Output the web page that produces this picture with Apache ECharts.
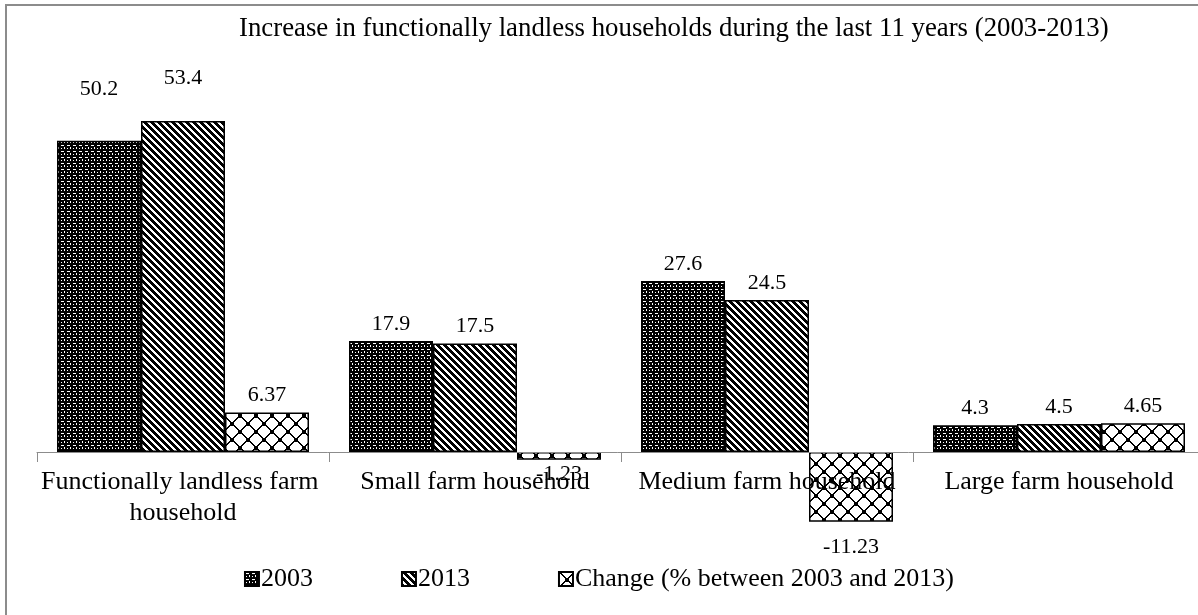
<!DOCTYPE html>
<html>
<head>
<meta charset="utf-8">
<script src="https://cdn.jsdelivr.net/npm/echarts@6/dist/echarts.min.js"></script>
<style>
  html, body { margin: 0; padding: 0; background: #fff; }
  #chart { width: 1198px; height: 615px; }
</style>
</head>
<body>
<div id="chart"></div>
<script>
// chart data
const categories = ['Functionally landless farm household', 'Small farm household', 'Medium farm household', 'Large farm household'];
const values2003 = [50.2, 17.9, 27.6, 4.3];
const values2013 = [53.4, 17.5, 24.5, 4.5];
const valuesChange = [6.37, -1.23, -11.23, 4.65];
const seriesNames = ['2003', '2013', 'Change (% between 2003 and 2013)'];

const FONT = '"Liberation Serif", "Times New Roman", serif';

// build pattern tiles (Excel-like hatch fills)
function makeTile(size, draw) {
    const c = document.createElement('canvas');
    c.width = size;
    c.height = size;
    const ctx = c.getContext('2d');
    ctx.fillStyle = '#fff';
    ctx.fillRect(0, 0, size, size);
    ctx.fillStyle = '#000';
    draw(ctx, size);
    return c;
}

// 2003: dark grid with small white dashes
const tileGrid = makeTile(6, (ctx) => {
    ctx.fillRect(0, 0, 6, 6);
    ctx.fillStyle = '#fff';
    ctx.fillRect(1, 1, 3, 1);
    ctx.fillRect(4, 3, 1, 2);
    ctx.fillRect(1, 4, 1, 1);
});

// 2013: diagonal stripes going down to the right
const tileDiag = makeTile(7, (ctx, s) => {
    for (let y = 0; y < s; y++) {
        for (let x = 0; x < s; x++) {
            if (((x - y) % s + s) % s < 4) ctx.fillRect(x, y, 1, 1);
        }
    }
});

// change: open diamond lattice with dots at the crossings
const tileLattice = makeTile(16, (ctx, s) => {
    for (let i = 0; i < s; i++) {
        ctx.fillRect(i, i, 2, 1);
        ctx.fillRect(s - 2 - i, i, 2, 1);
    }
    ctx.fillRect(6, 6, 4, 4);
    ctx.fillRect(0, 0, 2, 2);
    ctx.fillRect(14, 14, 2, 2);
    ctx.fillRect(0, 14, 2, 2);
    ctx.fillRect(14, 0, 2, 2);
});

const patterns = [tileGrid, tileDiag, tileLattice].map(img => ({ image: img, repeat: 'repeat' }));

// per-bar label tweaks (labels nudged like in the original)
const labelTweaks = {
    '0-0': { distance: 41 },
    '1-0': { distance: 32 },
    '2-1': { position: 'bottom', distance: 4 },
    '2-2': { position: 'bottom', distance: 15 }
};

function buildData(values, seriesIndex) {
    return values.map((v, i) => {
        const tweak = labelTweaks[seriesIndex + '-' + i];
        if (!tweak) return v;
        return { value: v, label: tweak };
    });
}

const allValues = [values2003, values2013, valuesChange];

const chart = echarts.init(document.getElementById('chart'));

const option = {
    animation: false,
    backgroundColor: '#fff',
    textStyle: { fontFamily: FONT, color: '#000' },
    title: {
        text: 'Increase in functionally landless households during the last 11 years (2003-2013)',
        left: 234,
        top: 10,
        textStyle: { fontFamily: FONT, fontSize: 26.8, fontWeight: 'normal', color: '#000' }
    },
    graphic: [{
        type: 'rect',
        shape: { x: 6, y: 5, width: 1300, height: 700 },
        style: { fill: 'none', stroke: '#8c8c8c', lineWidth: 2 },
        silent: true,
        z: -1
    }],
    legend: {
        left: 'center',
        top: 561,
        itemWidth: 14,
        itemHeight: 14,
        itemGap: 88,
        icon: 'rect',
        textStyle: { fontFamily: FONT, fontSize: 26, color: '#000', padding: [0, 0, 0, -3] },
        data: seriesNames
    },
    grid: {
        left: 37,
        right: -7,
        top: 80,
        bottom: 163,
        outerBoundsMode: 'none',
        containLabel: false
    },
    xAxis: {
        type: 'category',
        data: categories,
        z: 5,
        axisLine: { lineStyle: { color: '#8c8c8c', width: 1 } },
        axisTick: { show: true, length: 10, lineStyle: { color: '#8c8c8c' } },
        axisLabel: {
            interval: 0,
            margin: 15,
            fontFamily: FONT,
            fontSize: 26,
            lineHeight: 31,
            color: '#000',
            width: 300,
            overflow: 'break'
        }
    },
    yAxis: {
        type: 'value',
        min: 0,
        max: 60,
        show: false,
        splitLine: { show: false }
    },
    series: allValues.map((vals, si) => ({
        name: seriesNames[si],
        type: 'bar',
        clip: false,
        data: buildData(vals, si),
        barGap: '0%',
        barCategoryGap: '13.7%',
        itemStyle: {
            color: patterns[si],
            borderColor: '#000',
            borderWidth: 1.5
        },
        label: {
            show: true,
            position: 'top',
            distance: 6,
            fontFamily: FONT,
            fontSize: 22,
            color: '#000'
        }
    }))
};

chart.setOption(option);
</script>
</body>
</html>
